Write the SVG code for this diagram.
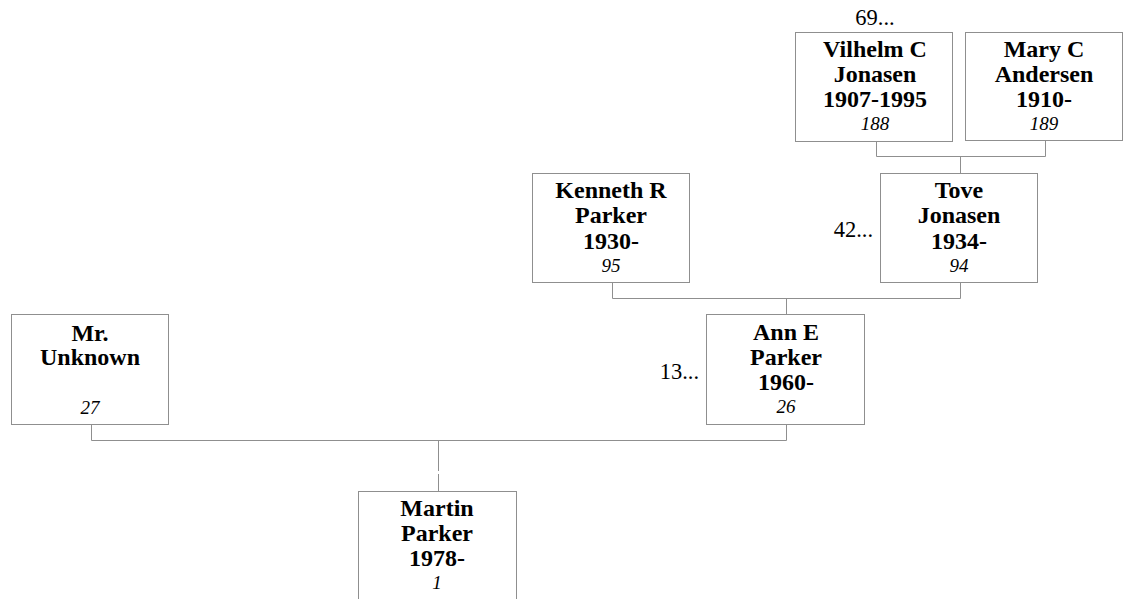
<svg xmlns="http://www.w3.org/2000/svg" width="1125" height="599" viewBox="0 0 1125 599">
<style>
.box{fill:#fff;stroke:#8f8f8f;stroke-width:1}
.ln{fill:none;stroke:#8f8f8f;stroke-width:1}
.n{font-family:"Liberation Serif","Times New Roman",serif;font-weight:bold;font-size:24px;fill:#000;text-anchor:middle}
.i{font-family:"Liberation Serif","Times New Roman",serif;font-style:italic;font-size:19px;fill:#000;text-anchor:middle}
.s{font-family:"Liberation Serif","Times New Roman",serif;font-size:22.5px;fill:#000}
</style>
<rect width="1125" height="599" fill="#fff"/>
<g id="connectors">
<path class="ln" d="M876.5,141 V156.5 H1045.5 V141 M960.5,156.5 V173"/>
<path class="ln" d="M612.5,282 V298.5 H960.5 V282 M786.5,298.5 V314"/>
<path class="ln" d="M91.5,424 V440.5 H786.5 V424 M438.5,440.5 V471 M438.5,474 V491"/>
</g>
<g id="vilhelm">
<text class="s" x="875" y="25" text-anchor="middle">69...</text>
<rect class="box" x="795.5" y="32.5" width="157" height="109"/>
<text class="n" x="875" y="57">Vilhelm C</text>
<text class="n" x="875" y="82">Jonasen</text>
<text class="n" x="875" y="107">1907-1995</text>
<text class="i" x="875" y="130">188</text>
</g>
<g id="mary">
<rect class="box" x="965.5" y="32.5" width="157" height="108"/>
<text class="n" x="1044" y="57">Mary C</text>
<text class="n" x="1044" y="82">Andersen</text>
<text class="n" x="1044" y="107">1910-</text>
<text class="i" x="1044" y="130">189</text>
</g>
<g id="kenneth">
<rect class="box" x="532.5" y="173.5" width="157" height="109"/>
<text class="n" x="611" y="198">Kenneth R</text>
<text class="n" x="611" y="223">Parker</text>
<text class="n" x="611" y="249">1930-</text>
<text class="i" x="611" y="272">95</text>
</g>
<g id="tove">
<text class="s" x="873" y="237" text-anchor="end">42...</text>
<rect class="box" x="880.5" y="173.5" width="157" height="109"/>
<text class="n" x="959" y="198">Tove</text>
<text class="n" x="959" y="223">Jonasen</text>
<text class="n" x="959" y="249">1934-</text>
<text class="i" x="959" y="272">94</text>
</g>
<g id="unknown">
<rect class="box" x="11.5" y="314.5" width="157" height="110"/>
<text class="n" x="90" y="341">Mr.</text>
<text class="n" x="90" y="365">Unknown</text>
<text class="i" x="90" y="414">27</text>
</g>
<g id="ann">
<text class="s" x="699" y="379" text-anchor="end">13...</text>
<rect class="box" x="706.5" y="314.5" width="158" height="110"/>
<text class="n" x="786" y="340">Ann E</text>
<text class="n" x="786" y="365">Parker</text>
<text class="n" x="786" y="390">1960-</text>
<text class="i" x="786" y="413">26</text>
</g>
<g id="martin">
<rect class="box" x="358.5" y="491.5" width="158" height="130"/>
<text class="n" x="437" y="516">Martin</text>
<text class="n" x="437" y="541">Parker</text>
<text class="n" x="437" y="566">1978-</text>
<text class="i" x="437" y="589">1</text>
</g>
</svg>
